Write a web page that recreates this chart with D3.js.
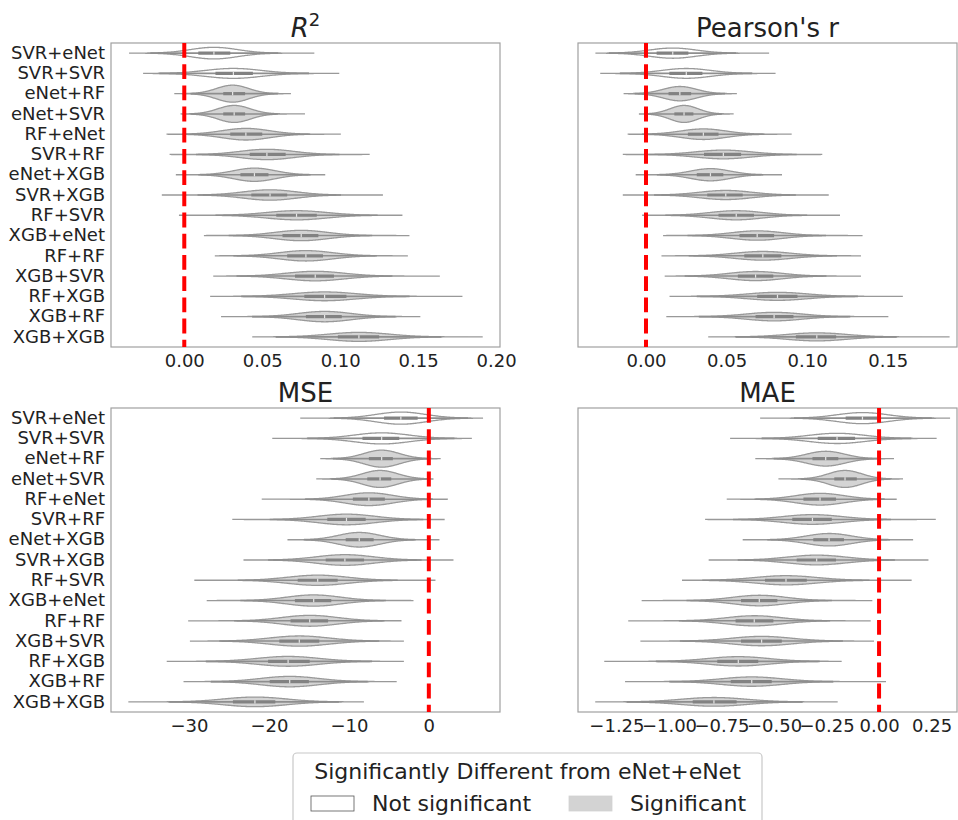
<!DOCTYPE html>
<html><head><meta charset="utf-8">
<script src="https://cdn.jsdelivr.net/npm/d3@7"></script>
<style>body{margin:0;background:#fff;}svg{display:block;font-family:"DejaVu Sans",sans-serif;}</style>
</head><body><svg id="chart" width="958" height="820"></svg>
<script>
const categories = ["SVR+eNet","SVR+SVR","eNet+RF","eNet+SVR","RF+eNet","SVR+RF","eNet+XGB","SVR+XGB","RF+SVR","XGB+eNet","RF+RF","XGB+SVR","RF+XGB","XGB+RF","XGB+XGB"];
const significant = [false,false,true,true,true,true,true,true,true,true,true,true,true,true,true];

const r2Lo  = [-0.035,-0.026,-0.006,-0.002,-0.011,-0.009,-0.005,-0.014,-0.003,0.013,0.020,0.019,0.017,0.024,0.044];
const r2Q1  = [0.009,0.020,0.025,0.025,0.0295,0.042,0.036,0.043,0.059,0.063,0.066,0.071,0.077,0.078,0.0985];
const r2Med = [0.019,0.0315,0.031,0.032,0.0395,0.053,0.045,0.055,0.072,0.075,0.078,0.084,0.090,0.090,0.112];
const r2Q3  = [0.0295,0.044,0.039,0.039,0.050,0.065,0.054,0.066,0.085,0.086,0.089,0.096,0.104,0.101,0.125];
const r2Hi  = [0.083,0.099,0.068,0.077,0.100,0.1185,0.090,0.127,0.1395,0.144,0.143,0.1635,0.178,0.151,0.191];

const prLo  = [-0.031,-0.028,-0.0135,-0.004,-0.011,-0.014,-0.006,-0.014,-0.002,0.011,0.010,0.012,0.015,0.013,0.039];
const prQ1  = [0.0066,0.0145,0.014,0.0176,0.026,0.036,0.0315,0.038,0.045,0.058,0.061,0.057,0.069,0.068,0.093];
const prMed = [0.0166,0.025,0.021,0.0236,0.0356,0.048,0.040,0.0495,0.056,0.069,0.0725,0.068,0.0816,0.0795,0.106];
const prQ3  = [0.0263,0.035,0.028,0.0294,0.045,0.059,0.048,0.060,0.067,0.0795,0.084,0.079,0.094,0.0915,0.118];
const prHi  = [0.076,0.080,0.056,0.054,0.090,0.109,0.084,0.113,0.120,0.134,0.133,0.133,0.159,0.150,0.188];

const mseLo  = [-16.0,-19.5,-13.5,-14.0,-20.9,-24.5,-17.6,-23.1,-29.25,-27.7,-30.1,-29.8,-32.7,-30.6,-37.5];
const mseQ1  = [-5.6,-8.3,-7.5,-7.7,-9.5,-12.7,-10.4,-12.9,-16.4,-16.75,-17.3,-18.7,-20.1,-19.9,-24.5];
const mseMed = [-3.5,-5.9,-5.9,-6.1,-7.5,-10.3,-8.7,-10.5,-13.9,-14.4,-14.9,-16.2,-17.6,-17.4,-21.75];
const mseQ3  = [-1.4,-3.7,-4.5,-4.7,-5.5,-7.9,-6.9,-8.1,-11.4,-12.2,-12.6,-13.7,-14.9,-15.0,-19.2];
const mseHi  = [6.7,5.3,1.4,0.5,2.3,1.9,1.25,3.0,0.75,-2.0,-3.5,-3.2,-3.2,-4.1,-8.2];

const maeLo  = [-0.563,-0.706,-0.586,-0.476,-0.722,-0.825,-0.646,-0.808,-0.935,-1.127,-1.194,-1.133,-1.305,-1.206,-1.348];
const maeQ1  = [-0.159,-0.292,-0.317,-0.213,-0.360,-0.413,-0.313,-0.392,-0.543,-0.657,-0.683,-0.657,-0.770,-0.706,-0.887];
const maeMed = [-0.079,-0.200,-0.254,-0.162,-0.281,-0.317,-0.238,-0.297,-0.443,-0.570,-0.594,-0.559,-0.670,-0.606,-0.786];
const maeQ3  = [0.005,-0.114,-0.194,-0.106,-0.205,-0.225,-0.167,-0.205,-0.344,-0.484,-0.503,-0.463,-0.575,-0.511,-0.678];
const maeHi  = [0.335,0.271,0.068,0.111,0.081,0.267,0.159,0.232,0.152,-0.035,-0.043,-0.027,-0.181,0.033,-0.200];

const r2Ticks  = [0.00,0.05,0.10,0.15,0.20];
const prTicks  = [0.00,0.05,0.10,0.15];
const mseTicks = [-30,-20,-10,0];
const maeTicks = [-1.25,-1.00,-0.75,-0.50,-0.25,0.00,0.25];

const legendTitle = "Significantly Different from eNet+eNet";
const legendLabels = ["Not significant","Significant"];

const svg = d3.select("#chart");

const panels = [
  {title:"R2", lo:r2Lo,q1:r2Q1,med:r2Med,q3:r2Q3,hi:r2Hi, ticks:r2Ticks, fmt:d3.format(".2f"),
   domain:[-0.047,0.2025], x0:111, x1:500, y0:43, y1:347, labels:true},
  {title:"Pearson's r", lo:prLo,q1:prQ1,med:prMed,q3:prQ3,hi:prHi, ticks:prTicks, fmt:d3.format(".2f"),
   domain:[-0.0422,0.193], x0:578, x1:957, y0:43, y1:347, labels:false},
  {title:"MSE", lo:mseLo,q1:mseQ1,med:mseMed,q3:mseQ3,hi:mseHi, ticks:mseTicks, fmt:d3.format("d"),
   domain:[-39.75,8.9], x0:111, x1:500, y0:408, y1:712, labels:true},
  {title:"MAE", lo:maeLo,q1:maeQ1,med:maeMed,q3:maeQ3,hi:maeHi, ticks:maeTicks, fmt:d3.format(".2f"),
   domain:[-1.433,0.371], x0:578, x1:957, y0:408, y1:712, labels:false}
];

panels.forEach(p => {
  const x = d3.scaleLinear().domain(p.domain).range([p.x0,p.x1]);
  const y = d3.scaleBand().domain(categories).range([p.y0,p.y1]).padding(0);
  const g = svg.append("g");
  const maxHalf = y.bandwidth()*0.42;
  const iqrs = categories.map((c,i)=>p.q3[i]-p.q1[i]);
  const minIqr = d3.min(iqrs);

  g.append("rect").attr("x",p.x0).attr("y",p.y0).attr("width",p.x1-p.x0).attr("height",p.y1-p.y0)
    .attr("fill","none").attr("stroke","#a0a0a0").attr("stroke-width",1.2);

  categories.forEach((c,i)=>{
    const cy = y(c) + y.bandwidth()/2;
    const sigma = iqrs[i]/1.349;
    const peak = maxHalf*(minIqr/iqrs[i]);
    const lo = p.lo[i], hi = p.hi[i], m = p.med[i];
    const n = 160;
    const vs = d3.range(n+1).map(k => lo + (hi-lo)*k/n);
    const area = d3.area()
      .x(v => x(v))
      .y0(v => cy - peak*Math.exp(-0.5*((v-m)/sigma)**2))
      .y1(v => cy + peak*Math.exp(-0.5*((v-m)/sigma)**2))
      .curve(d3.curveBasis);
    g.append("path").attr("d",area(vs))
      .attr("fill", significant[i] ? "#d4d4d4" : "#ffffff")
      .attr("stroke","#999999").attr("stroke-width",1.3);
    const iqr = iqrs[i];
    const wl = Math.max(lo, p.q1[i]-1.5*iqr), wh = Math.min(hi, p.q3[i]+1.5*iqr);
    g.append("line").attr("x1",x(wl)).attr("x2",x(wh)).attr("y1",cy).attr("y2",cy)
      .attr("stroke","#8e8e8e").attr("stroke-width",1.6);
    g.append("line").attr("x1",x(p.q1[i])).attr("x2",x(p.q3[i])).attr("y1",cy).attr("y2",cy)
      .attr("stroke","#828282").attr("stroke-width",3.2);
    g.append("line").attr("x1",x(m)).attr("x2",x(m)).attr("y1",cy-1.6).attr("y2",cy+1.6)
      .attr("stroke","#e6e6e6").attr("stroke-width",1.2);
  });

  g.append("line").attr("x1",x(0)).attr("x2",x(0)).attr("y1",p.y0).attr("y2",p.y1)
    .attr("stroke","#ff0000").attr("stroke-width",4).attr("stroke-dasharray","14.8 6.4");

  const ax = g.append("g").attr("transform",`translate(0,${p.y1})`)
    .call(d3.axisBottom(x).tickValues(p.ticks).tickFormat(p.fmt).tickSize(0).tickPadding(7));
  ax.select(".domain").remove();
  ax.selectAll("text").attr("font-size",18).attr("fill","#222").attr("font-family","DejaVu Sans");

  if (p.labels) {
    const ay = g.append("g").attr("transform",`translate(${p.x0},0)`)
      .call(d3.axisLeft(y).tickSize(0).tickPadding(6));
    ay.select(".domain").remove();
    ay.selectAll("text").attr("font-size",18).attr("fill","#222").attr("font-family","DejaVu Sans");
  }

  const tx = (p.x0+p.x1)/2, ty = p.y0-6;
  if (p.title === "R2") {
    const t = g.append("text").attr("x",tx).attr("y",ty).attr("text-anchor","middle")
      .attr("font-size",26).attr("fill","#222");
    t.append("tspan").attr("font-style","italic").text("R");
    t.append("tspan").attr("font-size",18).attr("dy",-11).text("2");
  } else {
    g.append("text").attr("x",tx).attr("y",ty).attr("text-anchor","middle")
      .attr("font-size",26).attr("fill","#222").text(p.title);
  }
});

const lg = svg.append("g");
lg.append("rect").attr("x",293).attr("y",753).attr("width",469).attr("height",80).attr("rx",4)
  .attr("fill","#fff").attr("stroke","#c8c8c8").attr("stroke-width",1.2);
lg.append("text").attr("x",527.5).attr("y",779).attr("text-anchor","middle")
  .attr("font-size",22).attr("fill","#222").text(legendTitle);
const patchX = [311,569], textX = [372,630];
legendLabels.forEach((l,i)=>{
  lg.append("rect").attr("x",patchX[i]).attr("y",796).attr("width",43).attr("height",15)
    .attr("fill", i===0 ? "#ffffff" : "#d3d3d3")
    .attr("stroke", i===0 ? "#555" : "#d3d3d3").attr("stroke-width",0.8);
  lg.append("text").attr("x",textX[i]).attr("y",811).attr("font-size",22).attr("fill","#222").text(l);
});
</script></body></html>
